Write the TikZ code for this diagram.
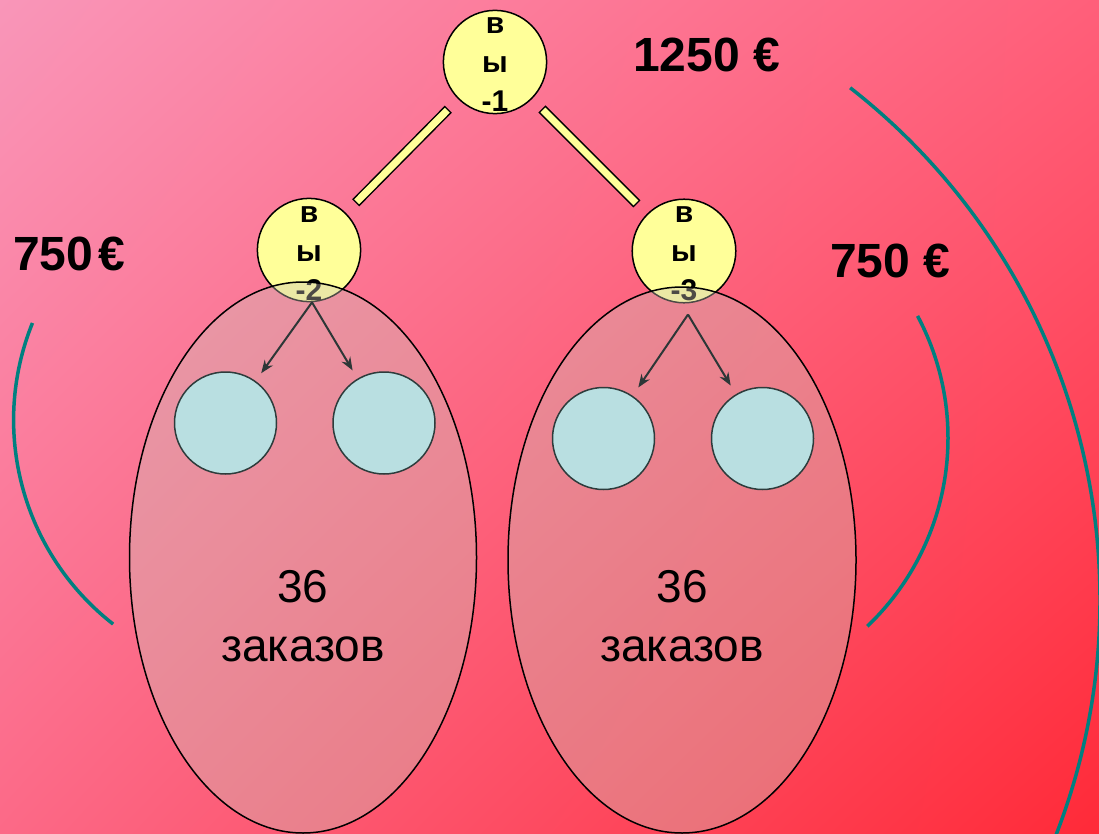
\documentclass[tikz,border=0pt]{standalone}
\usepackage{fontspec}
\setmainfont{Liberation Sans}
\usetikzlibrary{shapes.geometric,arrows.meta,shadings}
\definecolor{bgTL}{RGB}{249,150,185}
\definecolor{bgTR}{RGB}{255,95,122}
\definecolor{bgBL}{RGB}{252,105,135}
\definecolor{bgBR}{RGB}{255,42,56}
\definecolor{nodeyellow}{RGB}{255,255,153}
\definecolor{leafblue}{RGB}{185,223,225}
\definecolor{leafline}{RGB}{45,60,60}
\definecolor{arrowgray}{RGB}{45,55,55}
\definecolor{tealc}{RGB}{0,128,128}
\definecolor{groupfill}{RGB}{205,195,185}
\newcommand{\toppad}{\rule{0pt}{22pt}}
\begin{document}
\begin{tikzpicture}[x=1pt,y=-1pt,
  ynode/.style={circle, draw=black, line width=1.5pt, fill=nodeyellow, minimum size=102pt, inner sep=0pt,
    font=\fontsize{30}{39}\selectfont\bfseries, align=center},
  leaf/.style={circle, draw=leafline, line width=1.5pt, fill=leafblue, minimum size=102pt, inner sep=0pt},
  group/.style={ellipse, draw=black, line width=1.5pt, fill=groupfill, fill opacity=0.38, inner sep=0pt},
  barout/.style={draw=black, line width=10pt},
  barin/.style={draw=nodeyellow, line width=7pt},
  arr/.style={draw=arrowgray, line width=2pt, -{Stealth[length=13pt,width=10pt]}},
  arcline/.style={draw=tealc, line width=3.5pt},
  price/.style={font=\fontsize{48}{57}\selectfont\bfseries, inner sep=0pt, anchor=base west},
  count/.style={font=\fontsize{46}{59}\selectfont, align=center, inner sep=0pt}
]
\useasboundingbox (0,0) rectangle (1099,834);
\clip (0,0) rectangle (1099,834);
\shade[upper left=bgTL, upper right=bgTR, lower left=bgBL, lower right=bgBR] (0,0) rectangle (1099,834);

% tree nodes
\node[ynode] (top) at (495,62) {\toppad в\\ы\\-1};
\node[ynode] (l2) at (309,250) {\toppad в\\ы\\-2};
\node[ynode] (r2) at (684,251) {\toppad в\\ы\\-3};

% bars
\draw[barout, shorten <=14pt, shorten >=14pt] (top) -- (l2);
\draw[barin, shorten <=15.5pt, shorten >=15.5pt] (top) -- (l2);
\draw[barout, shorten <=14pt, shorten >=14pt] (top) -- (r2);
\draw[barin, shorten <=15.5pt, shorten >=15.5pt] (top) -- (r2);

% groups
\node[group, minimum width=347pt, minimum height=551pt] (gl) at (303,557.5) {};
\node[group, minimum width=348pt, minimum height=546pt] (gr) at (682,560) {};

% leaves
\node[leaf] (la) at (225.5,423) {};
\node[leaf] (lb) at (384,423) {};
\node[leaf] (ra) at (603.5,438.5) {};
\node[leaf] (rb) at (762.5,438.5) {};

% arrows
\draw[arr, shorten >=9.5pt] ([shift={(3,0)}]l2.south) -- (la);
\draw[arr, shorten >=9.5pt] ([shift={(3,0)}]l2.south) -- (lb);
\draw[arr, shorten >=10pt] ([shift={(4,11)}]r2.south) -- (ra);
\draw[arr, shorten >=10pt] ([shift={(4,11)}]r2.south) -- (rb);

% texts
\node[count] (tl) at (303,616) {36\\заказов};
\node[count] (tr) at (682,616) {36\\заказов};
\node[price] (p1) at (633,72) {1250 €};
\node[price] (p2) at (13,270) {750\kern5pt€};
\node[price] (p3) at (830,277) {750 €};

% arcs
\draw[arcline] (272.6,420) ++(202:259) arc[start angle=202, end angle=128, radius=259];
\draw[arcline] (688,438) ++(-28:260) arc[start angle=-28, end angle=46.4, radius=260];
\draw[arcline] (450,600) ++(-52:650) arc[start angle=-52, end angle=21.5, radius=650];
\end{tikzpicture}
\end{document}
